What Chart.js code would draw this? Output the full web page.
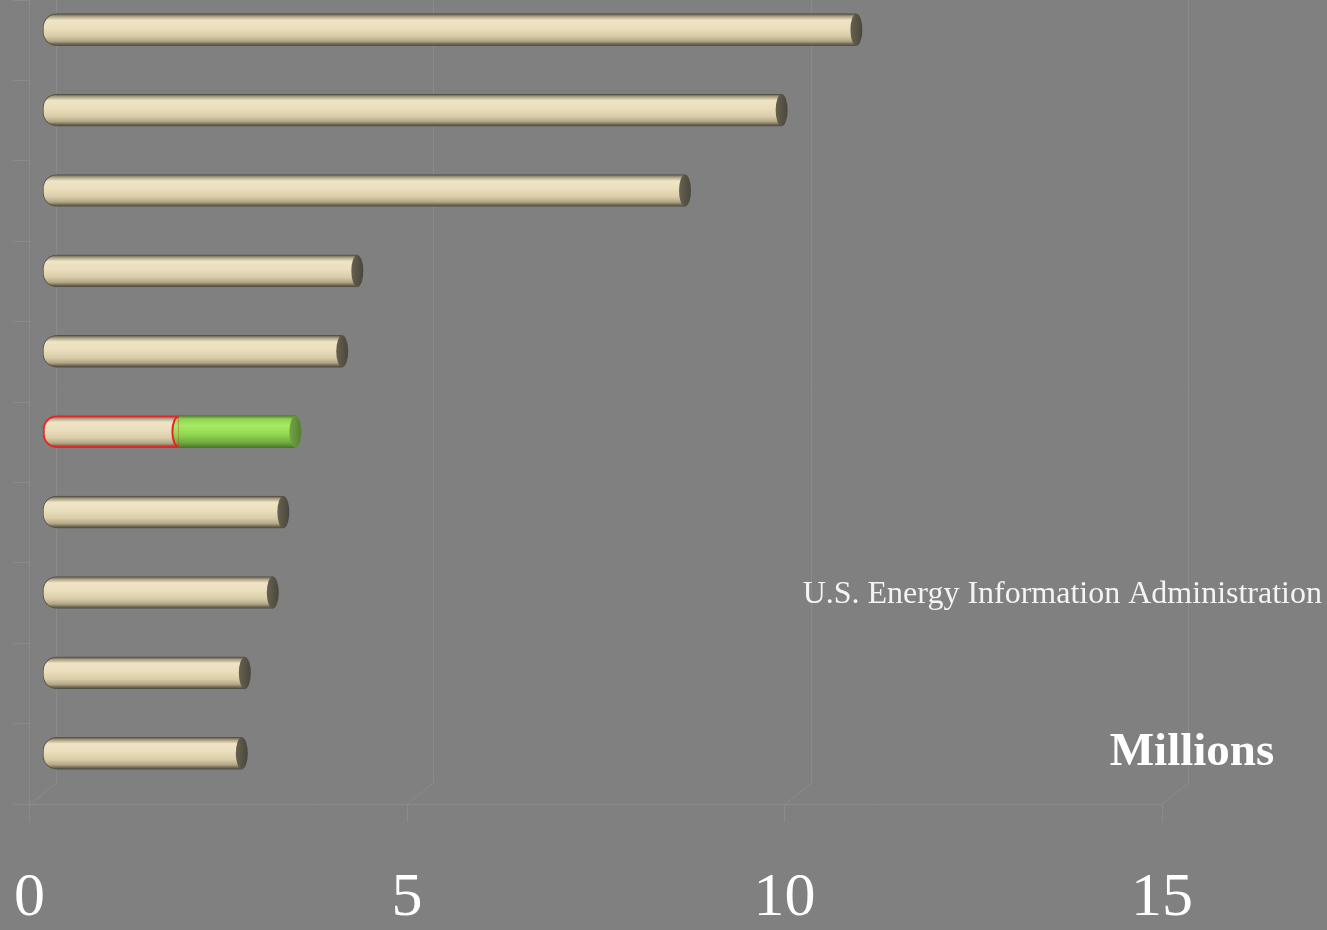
<!DOCTYPE html>
<html>
<head>
<meta charset="utf-8">
<script src="https://cdn.jsdelivr.net/npm/chart.js@4.4.1/dist/chart.umd.min.js"></script>
<style>
  html, body { margin: 0; padding: 0; background: #808080; overflow: hidden; }
  #wrap { position: relative; width: 1327px; height: 930px; }
</style>
</head>
<body>
<div id="wrap"><canvas id="chart" width="1327" height="930"></canvas></div>
<script>
// Oil supply, million barrels per day
const categories = ["Saudi Arabia", "Russia", "United States", "Iran", "China",
  "Canada", "Mexico", "United Arab Emirates", "Kuwait", "Venezuela"];
const baseValues = [10.78, 9.79, 8.51, 4.17, 3.97, 1.80, 3.19, 3.05, 2.68, 2.64];
const extraValues = [null, null, null, null, null, 1.55, null, null, null, null];
const xTicks = [0, 5, 10, 15];
const highlightIndex = 5;

const LINE = "#8b8b8b";
const SERIF = '"Liberation Serif", "Times New Roman", serif';

// depth of the 3D box and where the bars sit inside it
const DEPTH_X = 26, DEPTH_Y = 21;
const SHIFT_X = 13, SHIFT_Y = -10.5;
const BAR_H = 32;

function creamGradient(ctx, y) {
  if (!Number.isFinite(y)) return "#e8dcb8";
  const g = ctx.createLinearGradient(0, y - BAR_H / 2, 0, y + BAR_H / 2);
  g.addColorStop(0, "#544f45");
  g.addColorStop(0.08, "#a99e80");
  g.addColorStop(0.2, "#efe4c6");
  g.addColorStop(0.45, "#eadebc");
  g.addColorStop(0.7, "#d9cca8");
  g.addColorStop(0.86, "#b2a684");
  g.addColorStop(0.95, "#6c6653");
  g.addColorStop(1, "#4c483f");
  return g;
}

function greenGradient(ctx, y) {
  if (!Number.isFinite(y)) return "#90d650";
  const g = ctx.createLinearGradient(0, y - BAR_H / 2, 0, y + BAR_H / 2);
  g.addColorStop(0, "#4f7f2c");
  g.addColorStop(0.1, "#8fd052");
  g.addColorStop(0.3, "#a6ec62");
  g.addColorStop(0.6, "#90d650");
  g.addColorStop(0.85, "#6fa83e");
  g.addColorStop(1, "#4a7428");
  return g;
}

function barY(c) {
  const y = c.chart.scales.y;
  return y ? y.getPixelForValue(c.dataIndex) : NaN;
}

const frame3d = {
  id: "frame3d",
  beforeDatasetsDraw(chart) {
    const { ctx, chartArea: a, scales: { x } } = chart;
    ctx.save();
    ctx.strokeStyle = LINE;
    ctx.lineWidth = 1;
    ctx.beginPath();
    xTicks.forEach(v => {
      const px = Math.round(x.getPixelForValue(v)) + 0.5;
      ctx.moveTo(px, a.bottom);
      ctx.lineTo(px + DEPTH_X, a.bottom - DEPTH_Y);
      ctx.lineTo(px + DEPTH_X, a.top);
    });
    ctx.stroke();
    ctx.restore();

    // bars sit halfway into the box
    ctx.save();
    ctx.translate(SHIFT_X, SHIFT_Y);
  },
  afterDatasetsDraw(chart) {
    const { ctx } = chart;
    const sets = chart.data.datasets;
    sets.forEach((ds, di) => {
      const meta = chart.getDatasetMeta(di);
      meta.data.forEach((bar, i) => {
        if (!ds.data[i]) return;
        const { x, y, height } = bar.getProps(["x", "y", "height"], true);
        const ry = height / 2, rx = 6;
        const next = sets.slice(di + 1).find(d => d.data[i]);
        if (!next) {
          // end cap
          const g = ctx.createLinearGradient(x - rx, 0, x + rx, 0);
          if (ds.capColor === "green") {
            g.addColorStop(0, "#74a444");
            g.addColorStop(1, "#557f32");
          } else {
            g.addColorStop(0, "#66614f");
            g.addColorStop(1, "#4a463c");
          }
          ctx.beginPath();
          ctx.ellipse(x, y, rx, ry, 0, 0, Math.PI * 2);
          ctx.fillStyle = g;
          ctx.fill();
        } else {
          // next segment bulges over the joint
          ctx.beginPath();
          ctx.ellipse(x, y, rx, ry, 0, -Math.PI / 2, Math.PI / 2, true);
          ctx.closePath();
          ctx.fillStyle = greenGradient(ctx, y);
          ctx.fill();
          if (i === highlightIndex) {
            ctx.beginPath();
            ctx.ellipse(x, y, rx, ry - 1, 0, -Math.PI / 2, Math.PI / 2, true);
            ctx.strokeStyle = "#e3262a";
            ctx.lineWidth = 2;
            ctx.stroke();
          }
        }
      });
    });
    ctx.restore();
  },
  afterDraw(chart) {
    const { ctx } = chart;
    ctx.save();
    ctx.fillStyle = "#f4f4f4";
    ctx.textBaseline = "alphabetic";
    ctx.font = "32px " + SERIF;
    ctx.textAlign = "right";
    ctx.fillText("U.S. Energy Information Administration", 1322, 603);
    ctx.fillStyle = "#ffffff";
    ctx.font = "bold 47px " + SERIF;
    ctx.textAlign = "center";
    ctx.fillText("Millions", 1192, 765);
    ctx.restore();
  }
};

new Chart(document.getElementById("chart"), {
  type: "bar",
  data: {
    labels: categories,
    datasets: [
      {
        label: "Oil supply",
        data: baseValues,
        backgroundColor: c => creamGradient(c.chart.ctx, barY(c)),
        borderColor: c => c.dataIndex === highlightIndex ? "#e3262a" : "#57524a",
        borderWidth: c => c.dataIndex === highlightIndex ? 2 : 1,
        borderSkipped: false,
        borderRadius: { topLeft: 14, bottomLeft: 14, topRight: 0, bottomRight: 0 },
        barThickness: BAR_H,
        capColor: "cream",
        clip: false,
      },
      {
        label: "Oil sands",
        data: extraValues,
        backgroundColor: c => greenGradient(c.chart.ctx, barY(c)),
        borderWidth: 0,
        barThickness: BAR_H,
        capColor: "green",
        clip: false,
      },
    ],
  },
  options: {
    indexAxis: "y",
    responsive: false,
    animation: false,
    layout: { padding: { left: 13.5, right: 165, top: 0, bottom: 2 } },
    plugins: {
      legend: { display: false },
      tooltip: { enabled: true },
    },
    scales: {
      x: {
        stacked: true,
        min: 0,
        max: 15,
        afterBuildTicks: s => { s.ticks = xTicks.map(v => ({ value: v })); },
        afterFit: s => { s.height = 124; s.paddingLeft = 0; s.paddingRight = 0; },
        grid: { drawOnChartArea: false, color: LINE, tickLength: 18 },
        border: { display: true, color: LINE },
        ticks: {
          color: "#ffffff",
          padding: 46,
          maxRotation: 0,
          font: { family: SERIF, size: 62, lineHeight: 1 },
        },
      },
      y: {
        stacked: true,
        afterFit: s => { s.width = 16; },
        grid: { drawOnChartArea: false, color: LINE, tickLength: 16, offset: true },
        border: { display: true, color: LINE },
        ticks: { display: false },
      },
    },
  },
  plugins: [frame3d],
});
</script>
</body>
</html>
